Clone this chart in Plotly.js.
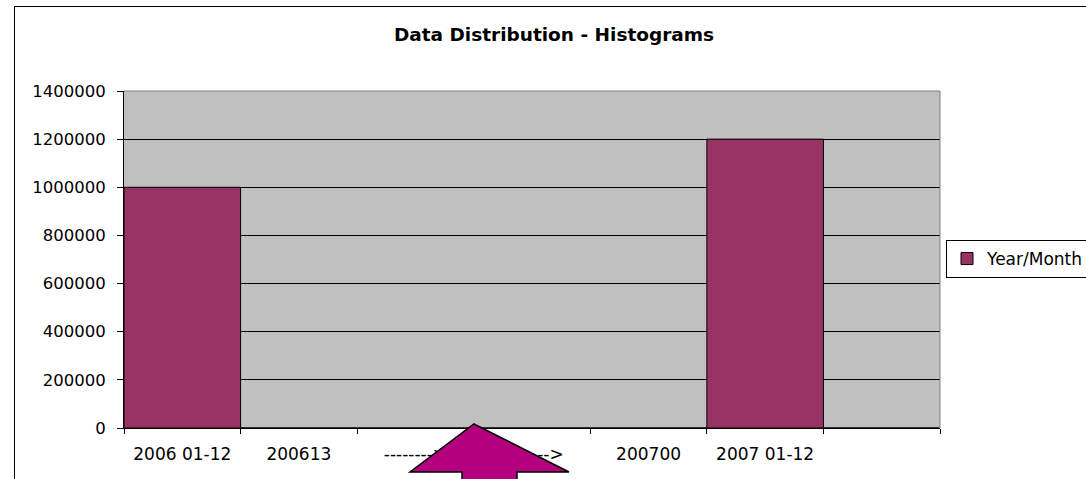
<!DOCTYPE html>
<html>
<head>
<meta charset="utf-8">
<script src="https://cdn.plot.ly/plotly-3.0.1.min.js"></script>
<style>
html,body{margin:0;padding:0;background:#fff;}
#chart{width:1086px;height:479px;}
</style>
</head>
<body>
<div id="chart"></div>
<script>
// ---- data ----
const categories = ["2006 01-12", "200613", "-------->", "-------->", "200700", "2007 01-12", ""];
const values = [1000000, 0, 0, 0, 0, 1200000, 0];
const seriesName = "Year/Month";
const yTicks = [0, 200000, 400000, 600000, 800000, 1000000, 1200000, 1400000];
const chartTitle = "Data Distribution - Histograms";

// ---- layout helpers ----
const W = 1086, H = 479;
const L = 124, R = 940, T = 91, B = 428;
const px = x => (x - L) / (R - L);
const py = y => (B - y) / (B - T);

const idx = categories.map((_, i) => i);
const bounds = [-0.5].concat(idx.map(i => i + 0.5));

const FONT = "DejaVu Sans, Arial, sans-serif";

const traces = [
  {
    type: "bar",
    x: idx,
    y: values,
    name: seriesName,
    width: 1,
    marker: {color: "#993366", line: {color: "#000000", width: 1}},
    hoverinfo: "skip"
  },
  {
    type: "scatter",
    x: [],
    y: [],
    xaxis: "x2",
    showlegend: false,
    hoverinfo: "skip"
  }
];

const arrow = [
  [474, 424], [569, 472], [517, 472], [517, 490], [462, 490], [462, 472], [410, 472]
];
const arrowPath = "M " + arrow.map(p => px(p[0]).toFixed(5) + "," + py(p[1]).toFixed(5)).join(" L ") + " Z";

const layout = {
  width: W,
  height: H,
  margin: {l: L, r: W - R, t: T, b: H - B, autoexpand: false},
  paper_bgcolor: "#ffffff",
  plot_bgcolor: "#C0C0C0",
  font: {family: FONT, color: "#000000", size: 16.5},
  title: {
    text: chartTitle,
    font: {family: FONT, size: 18.5, weight: "bold", color: "#000000"},
    xref: "container", x: 554 / W, xanchor: "center",
    yref: "container", y: 1 - 35 / H, yanchor: "middle"
  },
  bargap: 0,
  showlegend: true,
  legend: {
    x: px(946), xanchor: "left",
    y: py(259), yanchor: "middle",
    bgcolor: "#ffffff",
    bordercolor: "#000000",
    borderwidth: 1,
    font: {family: FONT, size: 17, color: "#000000"}
  },
  xaxis: {
    type: "linear",
    range: [-0.5, categories.length - 0.5],
    tickmode: "array",
    tickvals: idx,
    ticktext: categories,
    ticks: "",
    showgrid: false,
    zeroline: false,
    showline: true,
    linecolor: "#000000",
    linewidth: 1,
    ticklabelstandoff: 11,
    tickfont: {family: FONT, size: 17, color: "#000000"},
    fixedrange: true
  },
  xaxis2: {
    type: "linear",
    overlaying: "x",
    anchor: "y",
    side: "bottom",
    range: [-0.5, categories.length - 0.5],
    tickmode: "array",
    tickvals: bounds,
    ticks: "outside",
    ticklen: 5,
    tickwidth: 1,
    tickcolor: "#000000",
    showticklabels: false,
    showgrid: false,
    zeroline: false,
    showline: false,
    fixedrange: true
  },
  yaxis: {
    range: [0, 1400000],
    tickmode: "array",
    tickvals: yTicks,
    ticktext: yTicks.map(v => String(v)),
    ticks: "outside",
    ticklen: 6,
    tickwidth: 1,
    tickcolor: "#000000",
    showline: true,
    linecolor: "#000000",
    linewidth: 1,
    showgrid: true,
    gridcolor: "#000000",
    gridwidth: 1,
    zeroline: false,
    ticklabelstandoff: 8,
    tickfont: {family: FONT, size: 16.5, color: "#000000"},
    fixedrange: true
  },
  shapes: [
    // plot area border (top and right, grey)
    {type: "line", xref: "paper", yref: "paper", x0: 0, x1: 1, y0: 1, y1: 1,
     line: {color: "#808080", width: 1}, layer: "above"},
    {type: "line", xref: "paper", yref: "paper", x0: 1, x1: 1, y0: 0, y1: 1,
     line: {color: "#808080", width: 1}, layer: "above"},
    // outer chart border
    {type: "rect", xref: "paper", yref: "paper",
     x0: px(14.5), x1: px(1100), y0: py(6.5), y1: py(495),
     line: {color: "#000000", width: 1}, fillcolor: "rgba(0,0,0,0)", layer: "below"},
    // callout arrow
    {type: "path", xref: "paper", yref: "paper", path: arrowPath,
     fillcolor: "#B4007E", line: {color: "#000000", width: 1.5}, layer: "above"}
  ]
};

Plotly.newPlot("chart", traces, layout, {staticPlot: true, displayModeBar: false});
</script>
</body>
</html>
